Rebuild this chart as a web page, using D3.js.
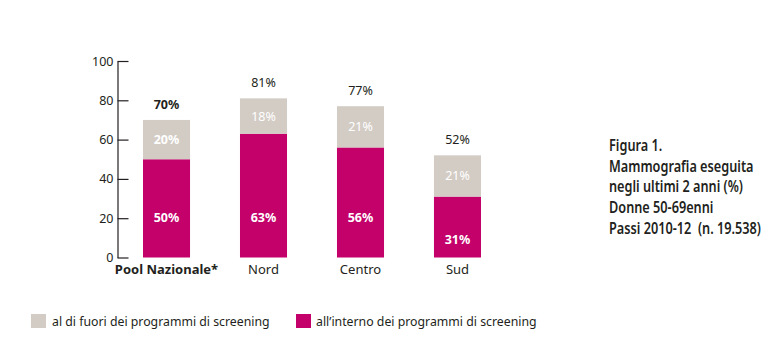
<!DOCTYPE html>
<html>
<head>
<meta charset="utf-8">
<script src="https://cdn.jsdelivr.net/npm/d3@7"></script>
<style>
  body { margin: 0; background: #fff; }
  svg { display: block; font-family: "Noto Sans", "Open Sans", sans-serif; }
</style>
</head>
<body>
<svg id="chart" width="784" height="349"></svg>
<script>
// mammografia nelle donne 50-69enni, per area geografica
const categories = ['Pool Nazionale*', 'Nord', 'Centro', 'Sud']
const dentro = [50, 63, 56, 31]   // all'interno dei programmi di screening
const fuori = [20, 18, 21, 21]    // al di fuori dei programmi di screening
const totali = [70, 81, 77, 52]
const yTicks = [0, 20, 40, 60, 80, 100]
const legendLabels = ['al di fuori dei programmi di screening', 'all\u2019interno dei programmi di screening']
const titleLines = ['Figura 1.', 'Mammografia eseguita', 'negli ultimi 2 anni (%)', 'Donne 50-69enni', 'Passi 2010-12\u00a0 (n. 19.538)']

const magenta = '#c4006a'
const grigio = '#d3ccc5'
const ink = '#231f20'

const svg = d3.select('#chart')

const x = d3.scaleBand()
  .domain(categories)
  .range([94.5, 529.5])
  .paddingInner(0.515)
  .paddingOuter(0.5)

const y = d3.scaleLinear()
  .domain([0, 100])
  .range([257.5, 61])

// asse y: ticks verso destra, etichette a sinistra
const yAxis = svg.append('g')
  .attr('transform', 'translate(117.5,0)')
  .call(d3.axisLeft(y).tickValues(yTicks).tickSizeInner(-11).tickSizeOuter(0).tickPadding(4))
yAxis.selectAll('path, line').attr('stroke', ink).attr('stroke-width', 1.2)
yAxis.selectAll('text').attr('font-size', 12.5).attr('fill', ink).attr('font-family', '"Noto Sans", sans-serif')

const rows = categories.map((c, i) => ({cat: c, dentro: dentro[i], fuori: fuori[i], tot: totali[i], i}))

const bars = svg.append('g').selectAll('g')
  .data(rows)
  .enter()
  .append('g')

bars.append('rect')
  .attr('x', d => x(d.cat))
  .attr('width', x.bandwidth())
  .attr('y', d => y(d.dentro))
  .attr('height', d => y(0) - y(d.dentro))
  .attr('fill', magenta)

bars.append('rect')
  .attr('x', d => x(d.cat))
  .attr('width', x.bandwidth())
  .attr('y', d => y(d.dentro + d.fuori))
  .attr('height', d => y(d.dentro) - y(d.dentro + d.fuori))
  .attr('fill', grigio)

const cx = d => x(d.cat) + x.bandwidth() / 2

// valori dentro le barre (più in basso se il segmento è corto)
bars.append('text')
  .attr('x', cx)
  .attr('y', d => y(Math.min(20.5, d.dentro - 22)) + 4.5)
  .attr('text-anchor', 'middle')
  .attr('font-size', 12.5)
  .attr('font-weight', 'bold')
  .attr('fill', '#fff')
  .text(d => d.dentro + '%')

bars.append('text')
  .attr('x', cx)
  .attr('y', d => y(d.dentro + d.fuori / 2) + 4.5)
  .attr('text-anchor', 'middle')
  .attr('font-size', 12.5)
  .attr('font-weight', d => d.i === 0 ? 'bold' : 'normal')
  .attr('fill', '#fff')
  .text(d => d.fuori + '%')

// totali sopra le barre
bars.append('text')
  .attr('x', cx)
  .attr('y', d => y(d.tot) - 11)
  .attr('text-anchor', 'middle')
  .attr('font-size', 12.5)
  .attr('font-weight', d => d.i === 0 ? 'bold' : 'normal')
  .attr('fill', ink)
  .text(d => d.tot + '%')

// etichette categorie
bars.append('text')
  .attr('x', cx)
  .attr('y', 274)
  .attr('text-anchor', 'middle')
  .attr('font-size', 13)
  .attr('font-weight', d => d.i === 0 ? 'bold' : 'normal')
  .attr('fill', ink)
  .text(d => d.cat)

// titolo a destra, compresso in orizzontale
svg.append('g')
  .attr('transform', 'translate(609,0) scale(0.77,1)')
  .append('text')
  .attr('font-size', 16.5)
  .attr('font-weight', 600)
  .attr('fill', ink)
  .selectAll('tspan')
  .data(titleLines)
  .enter()
  .append('tspan')
  .attr('x', 0)
  .attr('y', (d, i) => 151 + i * 20.7)
  .text(d => d)

// legenda
const legend = svg.append('g').selectAll('g')
  .data(legendLabels)
  .enter()
  .append('g')
  .attr('transform', (d, i) => `translate(${i === 0 ? 31 : 296},314)`)

legend.append('rect')
  .attr('width', 15)
  .attr('height', 14)
  .attr('fill', (d, i) => i === 0 ? grigio : magenta)

legend.append('text')
  .attr('x', (d, i) => i === 0 ? 21 : 20)
  .attr('y', 11.5)
  .attr('font-size', 12.3)
  .attr('fill', ink)
  .text(d => d)
</script>
</body>
</html>
